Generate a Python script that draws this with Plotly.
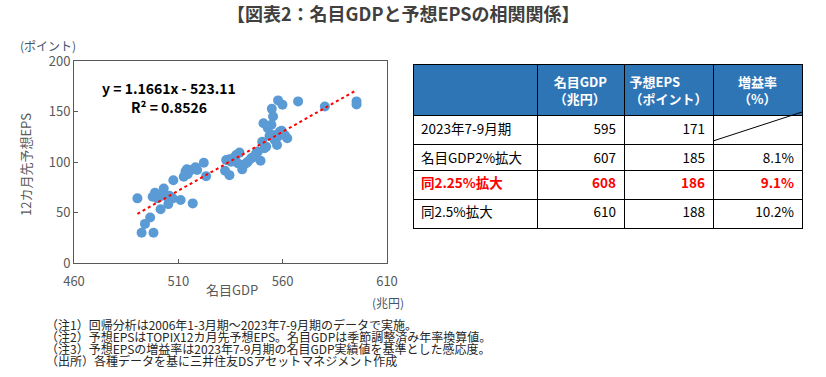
import plotly.graph_objects as go

# ---- data ----
gdp = [490.4, 492.4, 498.1, 494.0, 496.5, 498.8, 497.7, 500.0, 501.5, 503.0,
       505.2, 505.7, 507.3, 507.6, 511.1, 516.9, 512.6, 514.1, 516.1, 518.2,
       522.2, 523.3, 532.4, 534.5, 534.5, 536.9, 539.3, 540.6, 542.5, 544.9,
       547.3, 549.4, 550.2, 550.8, 551.3, 552.9, 553.7, 554.8, 555.4, 556.2,
       557.3, 557.8, 558.6, 559.9, 561.0, 562.2, 567.4, 580.2, 595.4, 595.4,
       499.4, 500.9, 504.1, 513.4, 514.5, 519.0, 532.9, 535.3, 537.7, 538.5,
       541.3, 543.3, 545.7, 548.1, 552.1, 555.4, 557.8, 559.5, 554.6]
eps = [64.0, 30.0, 30.0, 38.7, 45.0, 69.5, 65.6, 64.0, 53.3, 73.8,
       58.3, 66.6, 64.0, 82.0, 62.3, 59.0, 85.4, 92.7, 92.0, 94.7,
       99.3, 86.0, 91.4, 87.0, 102.6, 104.6, 109.3, 92.7, 98.7, 103.6,
       108.6, 101.3, 120.0, 138.4, 113.6, 133.4, 125.8, 152.6, 145.0, 121.9,
       116.9, 161.0, 130.0, 156.6, 126.8, 123.5, 160.0, 155.0, 160.0, 157.0,
       67.9, 65.6, 66.2, 90.4, 88.0, 92.0, 102.0, 100.3, 107.0, 98.7,
       97.0, 100.3, 104.6, 110.3, 115.2, 126.8, 125.2, 131.0, 136.8]
slope = 1.1661
intercept = -523.11
r2 = 0.8526

x_ticks = [460, 510, 560, 610]
y_ticks = [0, 50, 100, 150, 200]

table_header = ["", "名目GDP<br>（兆円）", "予想EPS<br>（ポイント）", "増益率<br>（%）"]
row_labels = ["2023年7-9月期", "名目GDP2%拡大", "同2.25%拡大", "同2.5%拡大"]
tbl_gdp = ["595", "607", "608", "610"]
tbl_eps = ["171", "185", "186", "188"]
tbl_growth = ["", "8.1%", "9.1%", "10.2%"]
highlight_row = 2

notes = [
    "（注1）回帰分析は2006年1-3月期～2023年7-9月期のデータで実施。",
    "（注2）予想EPSはTOPIX12カ月先予想EPS。名目GDPは季節調整済み年率換算値。",
    "（注3）予想EPSの増益率は2023年7-9月期の名目GDP実績値を基準とした感応度。",
    "（出所）各種データを基に三井住友DSアセットマネジメント作成",
]

FONT = "Noto Sans CJK JP"
W, H = 826, 377

fig = go.Figure()

fig.add_trace(go.Scatter(
    x=gdp, y=eps, mode="markers",
    marker=dict(size=10, color="#5B9BD5", line=dict(width=0)),
    showlegend=False, hoverinfo="skip"))

xmin, xmax = min(gdp), max(gdp)
fig.add_trace(go.Scatter(
    x=[xmin, xmax], y=[slope * xmin + intercept, slope * xmax + intercept],
    mode="lines", line=dict(color="#FF0000", width=2, dash="dot"),
    showlegend=False, hoverinfo="skip"))

# ---- table ----
# Part A: blue header + rows above the highlighted row.
# Part B: highlighted row (drawn as that table's bold header) + remaining rows.
TBL_X0, TBL_X1, TBL_TOP = 413, 802, 64
HEAD_H, ROW_H = 48, 29
col_widths = [124, 87, 89, 89]
cols = [row_labels, tbl_gdp, tbl_eps, tbl_growth]
cell_align = ["left", "right", "right", "right"]
cell_line = dict(color="#000000", width=1)

hA = HEAD_H + ROW_H * highlight_row
fig.add_trace(go.Table(
    domain=dict(x=[TBL_X0 / W, TBL_X1 / W],
                y=[1 - (TBL_TOP + hA + 2) / H, 1 - TBL_TOP / H]),
    columnwidth=col_widths,
    header=dict(values=table_header, fill_color="#2E75B6", line=cell_line,
                align="center",
                font=dict(family=FONT, size=13, color="white", weight=700),
                height=HEAD_H),
    cells=dict(values=[c[:highlight_row] for c in cols], fill_color="white",
               line=cell_line, align=cell_align,
               font=dict(family=FONT, size=13.5, color="#000000"),
               height=ROW_H),
))

topB = TBL_TOP + hA
hB = ROW_H * (len(row_labels) - highlight_row)
fig.add_trace(go.Table(
    domain=dict(x=[TBL_X0 / W, TBL_X1 / W],
                y=[1 - (topB + hB + 2) / H, 1 - topB / H]),
    columnwidth=col_widths,
    header=dict(values=[c[highlight_row] for c in cols], fill_color="white",
                line=cell_line, align=cell_align,
                font=dict(family=FONT, size=13.5, color="#FF0000", weight=700),
                height=ROW_H),
    cells=dict(values=[c[highlight_row + 1:] for c in cols], fill_color="white",
               line=cell_line, align=cell_align,
               font=dict(family=FONT, size=13.5, color="#000000"),
               height=ROW_H),
))

# diagonal line in empty cell
fig.add_shape(type="line", xref="paper", yref="paper",
              x0=713 / W, y0=1 - (TBL_TOP + HEAD_H + ROW_H) / H,
              x1=TBL_X1 / W, y1=1 - (TBL_TOP + HEAD_H) / H,
              line=dict(color="#000000", width=1))

fig.update_layout(
    width=W, height=H,
    margin=dict(l=0, r=0, t=0, b=0, autoexpand=False),
    paper_bgcolor="white", plot_bgcolor="white",
    font=dict(family=FONT, color="#595959"),
    xaxis=dict(domain=[74 / W, 387 / W], range=[460, 610], tickvals=x_ticks,
               ticks="inside", ticklen=4, tickcolor="#595959", automargin=False,
               ticklabelstandoff=6,
               showgrid=False, zeroline=False, showline=True, linecolor="#595959",
               linewidth=1, mirror=True, tickfont=dict(size=13, color="#595959")),
    yaxis=dict(domain=[1 - 263 / H, 1 - 61 / H], range=[0, 200], tickvals=y_ticks,
               ticks="inside", ticklen=4, tickcolor="#595959", automargin=False,
               showgrid=False, zeroline=False, showline=True, linecolor="#595959",
               linewidth=1, mirror=True, tickfont=dict(size=13, color="#595959")),
)

ann = [
    dict(text="<b>【図表2：名目GDPと予想EPSの相関関係】</b>", x=403 / W, y=1 - 13 / H,
         font=dict(size=18, color="#404040")),
    dict(text="(ポイント)", x=48 / W, y=1 - 46 / H, font=dict(size=12, color="#44546A")),
    dict(text="(兆円)", x=388 / W, y=1 - 302 / H, font=dict(size=12, color="#44546A")),
    dict(text="名目GDP", x=232 / W, y=1 - 289 / H, font=dict(size=13, color="#595959")),
    dict(text="12カ月先予想EPS", x=25 / W, y=1 - 165 / H, textangle=-90,
         font=dict(size=13, color="#595959")),
    dict(text=f"<b>y = {slope}x - {abs(intercept)}</b>", x=169 / W, y=1 - 88 / H,
         font=dict(size=14, color="#000000")),
    dict(text=f"<b>R² = {r2}</b>", x=169 / W, y=1 - 107 / H,
         font=dict(size=14, color="#000000")),
]
for a in ann:
    fig.add_annotation(xref="paper", yref="paper", showarrow=False,
                       xanchor="center", yanchor="middle", borderpad=0, **a)

for i, n in enumerate(notes):
    fig.add_annotation(xref="paper", yref="paper", showarrow=False,
                       xanchor="left", yanchor="middle", borderpad=0,
                       x=45 / W, y=1 - (324 + 12 * i) / H, text=n,
                       font=dict(size=12, color="#262626"))

fig.write_html("out.html", config={"displayModeBar": False},
               post_script="document.body.style.margin='0';")
